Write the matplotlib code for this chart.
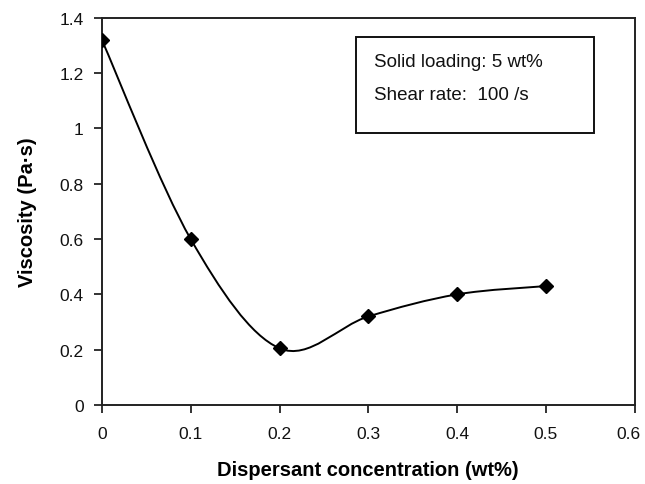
import numpy as np
import matplotlib
matplotlib.use('Agg')
import matplotlib.pyplot as plt
import matplotlib.transforms as mtransforms
from matplotlib.path import Path
from matplotlib.patches import PathPatch, Rectangle

plt.rcParams['font.family'] = ['Liberation Sans', 'DejaVu Sans']

# data
concentration = [0.0, 0.1, 0.2, 0.3, 0.4, 0.5]
viscosity = [1.32, 0.60, 0.205, 0.32, 0.40, 0.43]
x_ticks = [0, 0.1, 0.2, 0.3, 0.4, 0.5, 0.6]
y_ticks = [0, 0.2, 0.4, 0.6, 0.8, 1, 1.2, 1.4]
notes = ['Solid loading: 5 wt%', 'Shear rate:  100 /s']


def smooth_path(xs, ys):
    # Excel-style smoothed line (Catmull-Rom as cubic Bezier)
    pts = np.column_stack([xs, ys])
    ext = np.vstack([pts[0], pts, pts[-1]])
    verts = [pts[0]]
    codes = [Path.MOVETO]
    for i in range(1, len(ext) - 2):
        p0, p1, p2, p3 = ext[i - 1], ext[i], ext[i + 1], ext[i + 2]
        c1 = p1 + (p2 - p0) / 6
        c2 = p2 - (p3 - p1) / 6
        verts += [c1, c2, p2]
        codes += [Path.CURVE4] * 3
    return Path(verts, codes)


fig = plt.figure(figsize=(6.45, 4.85), dpi=100)
ax = fig.add_axes([0.158, 0.163, 0.826, 0.798])

ax.add_patch(PathPatch(smooth_path(concentration, viscosity), fill=False,
                       edgecolor='black', lw=1.4, zorder=2))
ax.plot(concentration, viscosity, ls='none', marker='D', ms=7,
        color='black', zorder=3)

ax.set_xlim(0, 0.6)
ax.set_ylim(0, 1.4)
ax.set_xticks(x_ticks)
ax.set_xticklabels(['0', '0.1', '0.2', '0.3', '0.4', '0.5', '0.6'])
ax.set_yticks(y_ticks)
ax.set_yticklabels(['0', '0.2', '0.4', '0.6', '0.8', '1', '1.2', '1.4'])
ax.tick_params(direction='out', length=6, width=1.2, labelsize=12.5,
               colors='#111111')
ax.tick_params(axis='x', pad=9)
ax.tick_params(axis='y', pad=7)
for s in ax.spines.values():
    s.set_linewidth(1.4)
    s.set_color('#222222')

# keep the last x label inside the figure
last = ax.get_xticklabels()[-1]
last.set_transform(last.get_transform() +
                   mtransforms.ScaledTranslation(-6 / 100, 0, fig.dpi_scale_trans))

ax.set_xlabel('Dispersant concentration (wt%)', fontsize=14.5,
              fontweight='bold', labelpad=14)
ax.set_ylabel('Viscosity (Pa·s)', fontsize=14.5, fontweight='bold',
              labelpad=16)

ax.add_patch(Rectangle((0.477, 0.703), 0.446, 0.248, transform=ax.transAxes,
                       fill=False, edgecolor='#111111', lw=1.4))
ax.text(0.510, 0.876, notes[0], transform=ax.transAxes, fontsize=13.5,
        va='baseline', ha='left', color='#111111')
ax.text(0.510, 0.791, notes[1], transform=ax.transAxes, fontsize=13.5,
        va='baseline', ha='left', color='#111111')

fig.savefig('out.png', dpi=100)
